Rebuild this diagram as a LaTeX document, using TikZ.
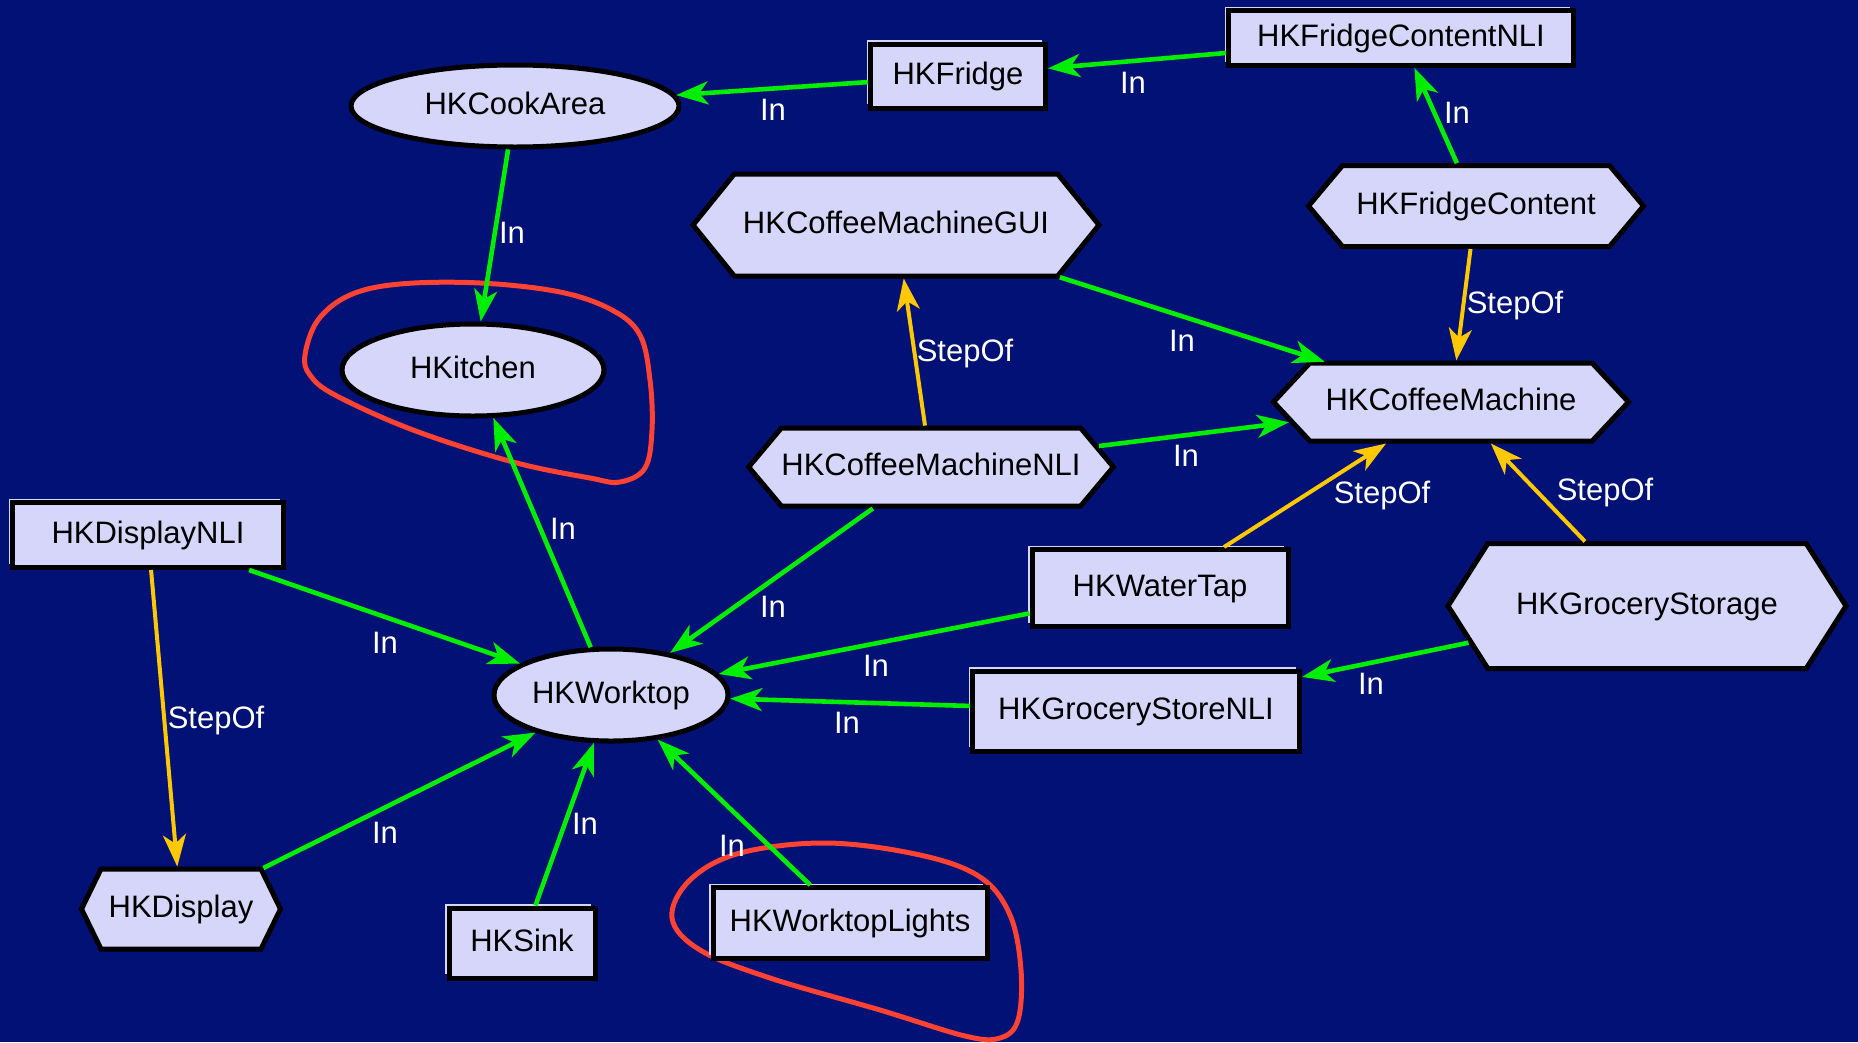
\documentclass[tikz,border=0pt]{standalone}
\usepackage{fontspec}
\setmainfont{Liberation Sans}
\usetikzlibrary{shapes.geometric,shapes.symbols,shadows,arrows.meta}
\definecolor{bgc}{RGB}{1,17,117}
\definecolor{lav}{RGB}{214,214,250}
\definecolor{grn}{RGB}{0,238,0}
\definecolor{ylw}{RGB}{255,200,0}
\definecolor{redc}{RGB}{255,66,50}
\begin{document}
\begin{tikzpicture}[x=1pt,y=-1pt,
  base/.style={fill=lav, draw=black, line width=5pt, inner sep=0pt,
    text height=22pt, text depth=6pt, font=\fontsize{31}{37}\selectfont},
  box/.style={base, rectangle, general shadow={fill=lav, shadow xshift=-4pt, shadow yshift=4pt}},
  ell/.style={base, ellipse},
  hex/.style={base, signal, signal to=east and west},
  tipstyle/.style={-{Stealth[length=32pt,width=23pt,inset=9pt]}},
  inarrow/.style={draw=grn, line width=4.6pt, tipstyle, fill=grn},
  steparrow/.style={draw=ylw, line width=4pt, tipstyle, fill=ylw},
  lbl/.style={text=white, inner sep=0pt, text height=22pt, text depth=0pt,
    font=\fontsize{31}{37}\selectfont},
  blob/.style={draw=redc, line width=5pt}
]
\useasboundingbox (0,0) rectangle (1858,1042);
\fill[bgc] (0,0) rectangle (1858,1042);

% red annotation curves
\draw[blob] plot[smooth cycle, tension=0.6] coordinates {
  (305,355) (318,320) (350,295) (400,284) (480,283) (560,292) (612,310)
  (640,335) (650,380) (652,430) (645,468) (620,482) (590,478) (513,462)
  (413,430) (335,395) (310,375)};
\draw[blob] plot[smooth cycle, tension=0.6] coordinates {
  (672,918) (690,880) (740,853) (827,843) (920,855) (980,877) (1010,915)
  (1021,970) (1018,1020) (1000,1038) (965,1036) (880,1010) (770,978) (700,950)};

% nodes
\node[box, minimum width=345pt, minimum height=55pt] (fcnli) at (1401,38) {HKFridgeContentNLI};
\node[box, minimum width=175pt, minimum height=64pt] (fridge) at (958,76) {HKFridge};
\node[ell, minimum width=328pt, minimum height=82pt] (cook) at (515,106) {HKCookArea};
\node[hex, minimum width=406pt, minimum height=102pt, signal pointer angle=102] (gui) at (896,225) {HKCoffeeMachineGUI};
\node[hex, minimum width=335pt, minimum height=81pt, signal pointer angle=100] (fc) at (1476,206) {HKFridgeContent};
\node[ell, minimum width=262pt, minimum height=92pt] (kitchen) at (473,370) {HKitchen};
\node[hex, minimum width=355pt, minimum height=78pt, signal pointer angle=94] (cm) at (1451,402) {HKCoffeeMachine};
\node[hex, minimum width=350pt, minimum height=78pt, signal pointer angle=100] (nli) at (931,467) {HKCoffeeMachineNLI};
\node[box, minimum width=271pt, minimum height=65pt] (dnli) at (148,535) {HKDisplayNLI};
\node[box, minimum width=256pt, minimum height=77pt] (water) at (1160,588) {HKWaterTap};
\node[hex, minimum width=398pt, minimum height=125pt, signal pointer angle=115] (gs) at (1647,606) {HKGroceryStorage};
\node[ell, minimum width=234pt, minimum height=92pt] (work) at (611,695) {HKWorktop};
\node[box, minimum width=327pt, minimum height=80pt] (gsnli) at (1136,711) {HKGroceryStoreNLI};
\node[hex, minimum width=199pt, minimum height=80pt, signal pointer angle=128] (disp) at (181,909) {HKDisplay};
\node[box, minimum width=146pt, minimum height=70pt] (sink) at (522,943) {HKSink};
\node[box, minimum width=274pt, minimum height=71pt] (wl) at (850,923) {HKWorktopLights};

% edges
\draw[inarrow] (fridge) -- (cook);
\draw[inarrow] (fcnli) -- (fridge);
\draw[inarrow] (fc) -- (fcnli);
\draw[steparrow] (fc) -- (cm);
\draw[inarrow] (cook) -- (kitchen);
\draw[inarrow] (gui) -- (cm);
\draw[steparrow] (nli) -- (gui);
\draw[inarrow] (nli) -- (cm);
\draw[inarrow] (nli) -- (work);
\draw[steparrow] (water) -- (cm);
\draw[steparrow] (gs) -- (cm);
\draw[inarrow] (water) -- (work);
\draw[inarrow] (gs) -- (gsnli);
\draw[inarrow] (gsnli) -- (work);
\draw[inarrow] (work) -- (kitchen);
\draw[inarrow] (dnli) -- (work);
\draw[steparrow] (dnli) -- (disp);
\draw[inarrow] (disp) -- (work);
\draw[inarrow] (sink) -- (work);
\draw[inarrow] (wl) -- (work);

% edge labels
\node[lbl] (l1) at (773,109) {In};
\node[lbl] (l2) at (1133,82) {In};
\node[lbl] (l3) at (1457,112) {In};
\node[lbl] (l4) at (1515,302) {StepOf};
\node[lbl] (l5) at (512,232) {In};
\node[lbl] (l6) at (1182,340) {In};
\node[lbl] (l7) at (965,350) {StepOf};
\node[lbl] (l8) at (1186,455) {In};
\node[lbl] (l9) at (773,606) {In};
\node[lbl] (l10) at (1382,492) {StepOf};
\node[lbl] (l11) at (1605,489) {StepOf};
\node[lbl] (l12) at (876,665) {In};
\node[lbl] (l13) at (1371,683) {In};
\node[lbl] (l14) at (847,722) {In};
\node[lbl] (l15) at (563,528) {In};
\node[lbl] (l16) at (385,642) {In};
\node[lbl] (l17) at (216,717) {StepOf};
\node[lbl] (l18) at (385,832) {In};
\node[lbl] (l19) at (585,823) {In};
\node[lbl] (l20) at (732,845) {In};
\end{tikzpicture}
\end{document}
